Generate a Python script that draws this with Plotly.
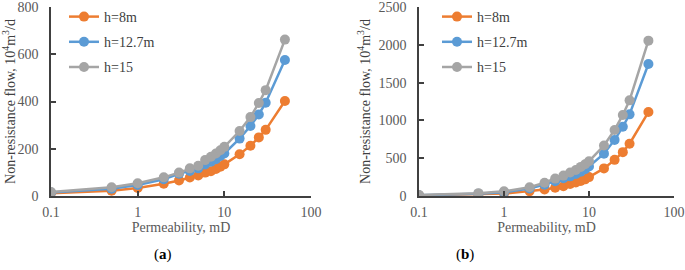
import plotly.graph_objects as go

perm = [0.1, 0.5, 1, 2, 3, 4, 5, 6, 7, 8, 9, 10, 15, 20, 25, 30, 50]

# Panel (a)
a_h8 = [12, 22, 34, 52, 66, 78, 87, 99, 105, 114, 124, 134, 177, 213, 248, 280, 402]
a_h127 = [15, 31, 47, 71, 94, 106, 117, 133, 145, 156, 169, 180, 243, 296, 345, 395, 576]
a_h15 = [17, 37, 54, 79, 99, 117, 128, 152, 166, 180, 194, 208, 275, 334, 394, 448, 662]

# Panel (b)
b_h8 = [8, 20, 33, 65, 85, 110, 130, 160, 180, 200, 220, 250, 365, 478, 580, 692, 1110]
b_h127 = [10, 30, 50, 100, 150, 195, 235, 260, 290, 320, 355, 390, 560, 742, 915, 1080, 1746]
b_h15 = [12, 38, 62, 115, 175, 230, 270, 310, 345, 385, 420, 460, 667, 874, 1072, 1265, 2055]

names = ["h=8m", "h=12.7m", "h=15"]
colors = ["#ED7D31", "#5B9BD5", "#A5A5A5"]
xticks = [0.1, 1, 10, 100]
xticktext = ["0.1", "1", "10", "100"]

FONT = "Liberation Serif, Times New Roman, serif"
W, H = 685, 270

fig = go.Figure()

for i, (ys, name) in enumerate(zip([a_h8, a_h127, a_h15], names)):
    fig.add_trace(go.Scatter(x=perm, y=ys, name=name, mode="lines+markers",
                             line=dict(color=colors[i], width=2.5),
                             marker=dict(color=colors[i], size=10),
                             xaxis="x", yaxis="y", legend="legend",
                             legendgroup="a%d" % i))
for i, (ys, name) in enumerate(zip([b_h8, b_h127, b_h15], names)):
    fig.add_trace(go.Scatter(x=perm, y=ys, name=name, mode="lines+markers",
                             line=dict(color=colors[i], width=2.5),
                             marker=dict(color=colors[i], size=10),
                             xaxis="x2", yaxis="y2", legend="legend2",
                             legendgroup="b%d" % i))

axcol = "#404040"
def xaxis(domain, anchor):
    return dict(type="log", range=[-1, 2], domain=domain, anchor=anchor,
                automargin=False,
                tickvals=xticks, ticktext=xticktext, showgrid=False,
                showline=True, linecolor=axcol, linewidth=1.5,
                ticks="inside", ticklen=5, tickcolor=axcol, tickwidth=1.5,
                ticklabelstandoff=2, ticklabeloverflow="allow",
                tickfont=dict(family=FONT, size=14, color="#595959"),
                title=dict(text="Permeability, mD", standoff=4,
                           font=dict(family=FONT, size=14, color="#595959")),
                zeroline=False)

def yaxis(domain, anchor, rng, dtick):
    return dict(range=rng, dtick=dtick, domain=domain, anchor=anchor,
                automargin=False,
                showgrid=False, showline=True, linecolor=axcol, linewidth=1.5,
                ticks="inside", ticklen=5, tickcolor=axcol, tickwidth=1.5,
                ticklabelstandoff=8, ticklabeloverflow="allow",
                tickfont=dict(family=FONT, size=14, color="#595959"),
                title=dict(text="Non-resistance flow, 10<sup>4</sup>m<sup>3</sup>/d",
                           standoff=5, font=dict(family=FONT, size=14, color="#404040")),
                zeroline=False)

y_dom = [(H - 196) / H, (H - 7) / H]
fig.update_layout(
    width=W, height=H,
    margin=dict(l=0, r=0, t=0, b=0, autoexpand=False),
    paper_bgcolor="white", plot_bgcolor="white",
    xaxis=xaxis([51 / W, 311 / W], "y"),
    yaxis=yaxis(y_dom, "x", [0, 800], 200),
    xaxis2=xaxis([419 / W, 674 / W], "y2"),
    yaxis2=yaxis(y_dom, "x2", [0, 2500], 500),
    legend=dict(x=64 / W, y=1 - 1 / H, xanchor="left", yanchor="top",
                bgcolor="rgba(0,0,0,0)", tracegroupgap=4,
                font=dict(family=FONT, size=14, color="#404040")),
    legend2=dict(x=437 / W, y=1 - 1 / H, xanchor="left", yanchor="top",
                 bgcolor="rgba(0,0,0,0)", tracegroupgap=4,
                 font=dict(family=FONT, size=14, color="#404040")),
    showlegend=True,
    annotations=[
        dict(text="(<b>a</b>)", x=163 / W, y=1 - 254 / H, xref="paper", yref="paper",
             xanchor="center", yanchor="middle",
             showarrow=False, font=dict(family=FONT, size=15, color="black")),
        dict(text="(<b>b</b>)", x=465 / W, y=1 - 254 / H, xref="paper", yref="paper",
             xanchor="center", yanchor="middle",
             showarrow=False, font=dict(family=FONT, size=15, color="black")),
    ],
)

fig.write_html("out.html", config={"displayModeBar": False},
               post_script="document.body.style.margin='0';document.body.style.overflow='hidden';")
